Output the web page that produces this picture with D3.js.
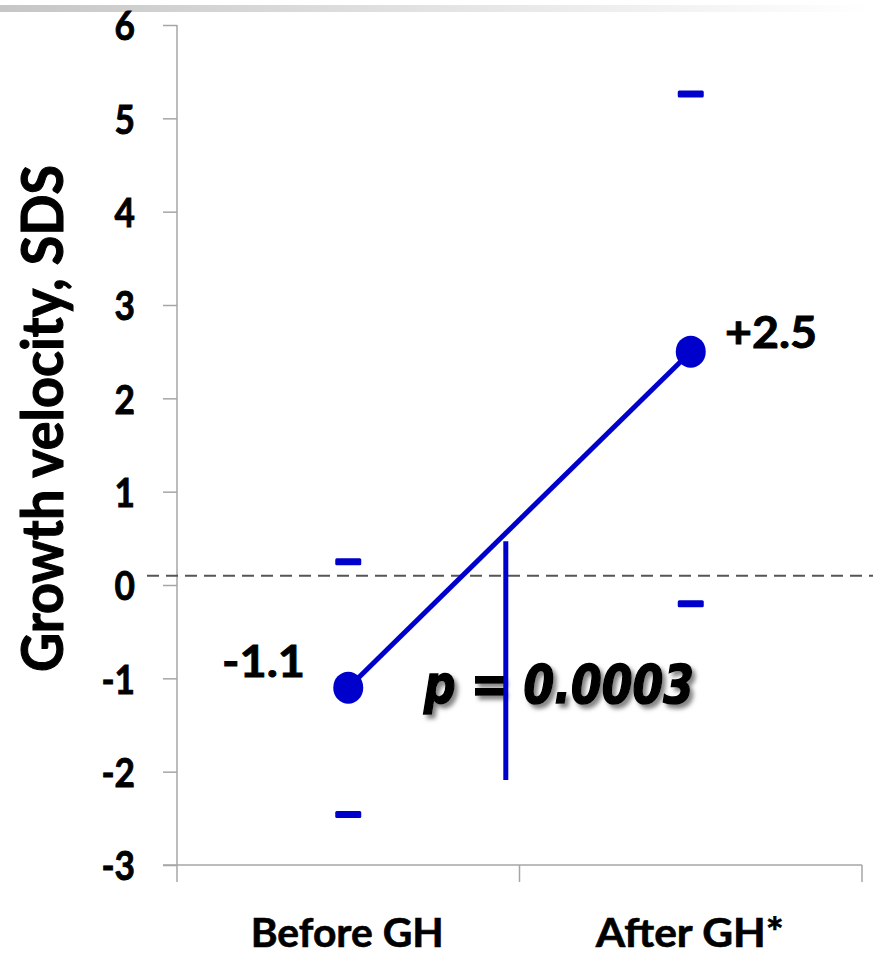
<!DOCTYPE html>
<html>
<head>
<meta charset="utf-8">
<script src="https://cdn.jsdelivr.net/npm/d3@7"></script>
<style>
  html, body { margin: 0; padding: 0; background: #fff; }
  svg { display: block; }
</style>
</head>
<body>
<svg id="chart" width="873" height="956"></svg>
<script>
// ---- data ----
const categories = ["Before GH", "After GH*"];
const meanValues = [-1.1, 2.5];
const meanLabels = ["-1.1", "+2.5"];
const upperValues = [0.25, 5.26];
const lowerValues = [-2.46, -0.2];
const yTicks = [-3, -2, -1, 0, 1, 2, 3, 4, 5, 6];
const yTickLabels = ["-3", "-2", "-1", "0", "1", "2", "3", "4", "5", "6"];
const referenceValue = 0.1;
const pLine = { pos: 0.96, top: 0.47, bottom: -2.09 };
const pText = "p = 0.0003";
const yTitle = "Growth velocity, SDS";

// ---- layout ----
const svg = d3.select("#chart");
const blue = "#0000cc";
const axisGrey = "#a6a6a6";
const boldStroke = 0.9;

const defs = svg.append("defs");
const grad = defs.append("linearGradient").attr("id", "topbar").attr("x1", "0").attr("x2", "1");
grad.append("stop").attr("offset", "0").attr("stop-color", "#c6c6c6");
grad.append("stop").attr("offset", "0.55").attr("stop-color", "#e6e6e6");
grad.append("stop").attr("offset", "1").attr("stop-color", "#ffffff");
const shadow = defs.append("filter").attr("id", "shadow").attr("x", "-10%").attr("y", "-30%").attr("width", "130%").attr("height", "170%");
shadow.append("feDropShadow").attr("dx", 3.5).attr("dy", 4).attr("stdDeviation", 2)
  .attr("flood-color", "#666").attr("flood-opacity", 0.8);

svg.append("rect").attr("x", 0).attr("y", 5).attr("width", 873).attr("height", 7).attr("fill", "url(#topbar)");

const y = d3.scaleLinear().domain([-3, 6]).range([865, 25]);
const xBand = d3.scaleBand().domain(categories).range([177, 862]).paddingInner(0).paddingOuter(0);
const xPos = d3.scaleLinear().domain([0, categories.length]).range([177, 862]);
const cx = (c) => xBand(c) + xBand.bandwidth() / 2;

// y axis
const sx = 0.86;
const yAxis = d3.axisLeft(y).tickValues(yTicks).tickSize(14).tickSizeOuter(0)
  .tickFormat((d, i) => yTickLabels[i]);
const gy = svg.append("g").attr("transform", "translate(177,0)").call(yAxis);
gy.select(".domain").attr("stroke", axisGrey).attr("stroke-width", 1.5).attr("d", `M0,${y(6)}V882`);
gy.selectAll(".tick line").attr("stroke", axisGrey).attr("stroke-width", 1.5);
gy.selectAll(".tick text")
  .attr("font-family", "Lato, sans-serif").attr("font-weight", 700).attr("font-size", 41)
  .attr("fill", "#000").attr("stroke", "#000").attr("stroke-width", boldStroke)
  .attr("x", -42 / sx).attr("dy", "0.36em")
  .attr("transform", `scale(${sx},1)`);

// x axis
const xAxis = d3.axisBottom(xBand).tickSize(0).tickFormat("");
const gx = svg.append("g").attr("transform", `translate(0,${y(-3)})`).call(xAxis);
gx.select(".domain").attr("stroke", axisGrey).attr("stroke-width", 1.5).attr("d", `M163,0H862`);
gx.selectAll(".tick").remove();
const bounds = categories.map(c => xBand(c)).concat([xBand(categories[categories.length - 1]) + xBand.bandwidth()]);
gx.selectAll(".bt").data(bounds.slice(1)).enter().append("line")
  .attr("x1", d => d).attr("x2", d => d).attr("y1", 0).attr("y2", 17)
  .attr("stroke", axisGrey).attr("stroke-width", 1.5);

// x labels
const xLabelWidths = [193, 188];
svg.selectAll(".xl").data(categories).enter().append("text")
  .attr("x", d => cx(d) - 1).attr("y", 947).attr("text-anchor", "middle")
  .attr("font-family", "Lato, sans-serif").attr("font-weight", 700).attr("font-size", 41)
  .attr("stroke", "#000").attr("stroke-width", boldStroke * 0.7)
  .attr("textLength", (d, i) => xLabelWidths[i]).attr("lengthAdjust", "spacingAndGlyphs")
  .text(d => d);

// y title
svg.append("text")
  .attr("transform", `translate(63,418.5) rotate(-90)`)
  .attr("text-anchor", "middle")
  .attr("font-family", "Lato, sans-serif").attr("font-weight", 700).attr("font-size", 58)
  .attr("stroke", "#000").attr("stroke-width", boldStroke * 1.2)
  .attr("textLength", 507).attr("lengthAdjust", "spacingAndGlyphs")
  .text(yTitle);

// reference dashed line
svg.append("line")
  .attr("x1", 147).attr("x2", 873).attr("y1", y(referenceValue)).attr("y2", y(referenceValue))
  .attr("stroke", "#555").attr("stroke-width", 2).attr("stroke-dasharray", "12,7");

// range markers
const markers = [];
categories.forEach((c, i) => { markers.push({ c, v: upperValues[i] }); markers.push({ c, v: lowerValues[i] }); });
svg.selectAll(".mk").data(markers).enter().append("rect")
  .attr("x", d => cx(d.c) - 13).attr("y", d => y(d.v) - 3.5)
  .attr("width", 26).attr("height", 7).attr("rx", 1.5)
  .attr("fill", blue);

// mean line
const line = d3.line().x((d, i) => cx(categories[i])).y(d => y(d));
svg.append("path").datum(meanValues).attr("d", line)
  .attr("fill", "none").attr("stroke", blue).attr("stroke-width", 5);

svg.selectAll(".pt").data(meanValues).enter().append("ellipse")
  .attr("cx", (d, i) => cx(categories[i])).attr("cy", d => y(d))
  .attr("rx", 15).attr("ry", 16).attr("fill", blue);

// value labels
const labelPos = [{ x: 222, y: 677, w: 83 }, { x: 725, y: 348, w: 92 }];
svg.selectAll(".vl").data(meanLabels).enter().append("text")
  .attr("x", (d, i) => labelPos[i].x).attr("y", (d, i) => labelPos[i].y)
  .attr("font-family", "Lato, sans-serif").attr("font-weight", 700).attr("font-size", 44)
  .attr("stroke", "#000").attr("stroke-width", boldStroke)
  .attr("textLength", (d, i) => labelPos[i].w).attr("lengthAdjust", "spacingAndGlyphs")
  .text(d => d);

// p text
svg.append("text")
  .attr("x", 424).attr("y", 703)
  .attr("font-family", "DejaVu Sans, sans-serif").attr("font-weight", 700).attr("font-style", "italic")
  .attr("font-size", 53)
  .attr("stroke", "#000").attr("stroke-width", 1.6)
  .attr("textLength", 270).attr("lengthAdjust", "spacingAndGlyphs")
  .attr("filter", "url(#shadow)")
  .text(pText);

// vertical p line (drawn over the text)
svg.append("line")
  .attr("x1", xPos(pLine.pos)).attr("x2", xPos(pLine.pos))
  .attr("y1", y(pLine.top)).attr("y2", y(pLine.bottom))
  .attr("stroke", blue).attr("stroke-width", 5);
</script>
</body>
</html>
